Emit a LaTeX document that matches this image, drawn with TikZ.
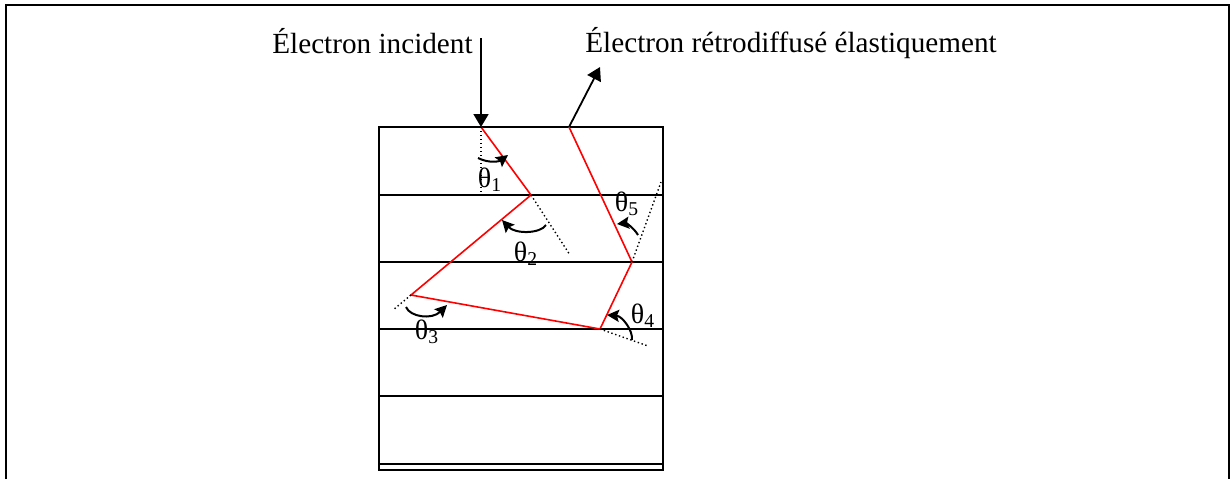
\documentclass[tikz,border=0pt]{standalone}
\usepackage{fontspec}
\setmainfont{Liberation Serif}
\usepackage{tikz}
\usetikzlibrary{arrows.meta, positioning, calc}

\begin{document}
\begin{tikzpicture}[
    x=0.5pt, y=-0.5pt,
    layer/.style={line width=1pt, black},
    path/.style={line width=0.8pt, red},
    normal/.style={line width=0.7pt, dash pattern=on 0.7pt off 1.3pt},
    beam/.style={line width=0.9pt, -{Triangle[length=6.5pt, width=7.5pt]}},
    angle/.style={line width=1pt, -{Stealth[length=6pt, width=6pt, inset=1pt]}},
    label/.style={inner sep=0pt, font=\fontsize{14.6}{17}\selectfont},
    theta/.style={inner sep=0pt, font=\fontsize{14}{16}\selectfont}
]
    \useasboundingbox (0,0) rectangle (1231,479);
    \draw[line width=1pt] (6,479) -- (6,5) -- (1229,5) -- (1229,479);

    \draw[layer] (379,127) rectangle (663,470);
    \foreach \y in {195, 262, 329, 396, 464}
        \draw[layer] (379,\y) -- (663,\y);

    \coordinate (entry) at (481,127);
    \coordinate (src) at (481,38);
    \coordinate (p1) at (531,195);
    \coordinate (p2) at (411,295);
    \coordinate (p3) at (600,329);
    \coordinate (p4) at (632,262);
    \coordinate (exit) at (569,127);
    \coordinate (out) at (600,67);

    \node[label, anchor=base east] (incident) at (473,53) {Électron incident};
    \node[label, anchor=base west] (retro) at (585,52) {Électron rétrodiffusé élastiquement};

    \draw[beam] (src) -- (entry);
    \draw[beam] (exit) -- (out);

    \draw[path] (entry) -- (p1) -- (p2) -- (p3) -- (p4) -- (exit);

    \draw[normal] (entry) -- (481,195);
    \draw[normal] (p1) -- (570,255);
    \draw[normal] (p2) -- (393,310);
    \draw[normal] (p3) -- (648,346);
    \draw[normal] (p4) -- (661,182);

    \draw[angle] (478,158) .. controls (490,164) and (500,161) .. (508,155);
    \draw[angle] (546,225) .. controls (540,234) and (515,234) .. (502,220);
    \draw[angle] (638,235) .. controls (634,228) and (626,223) .. (617,224);
    \draw[angle] (406,307) .. controls (410,317) and (432,320) .. (447,305);
    \draw[angle] (632,340) .. controls (633,330) and (622,316) .. (607,315);

    \node[theta] (t1) at (490,180) {θ\textsubscript{1}};
    \node[theta] (t2) at (526,254) {θ\textsubscript{2}};
    \node[theta] (t3) at (427,332) {θ\textsubscript{3}};
    \node[theta] (t4) at (643,316) {θ\textsubscript{4}};
    \node[theta] (t5) at (627,204) {θ\textsubscript{5}};
\end{tikzpicture}
\end{document}
